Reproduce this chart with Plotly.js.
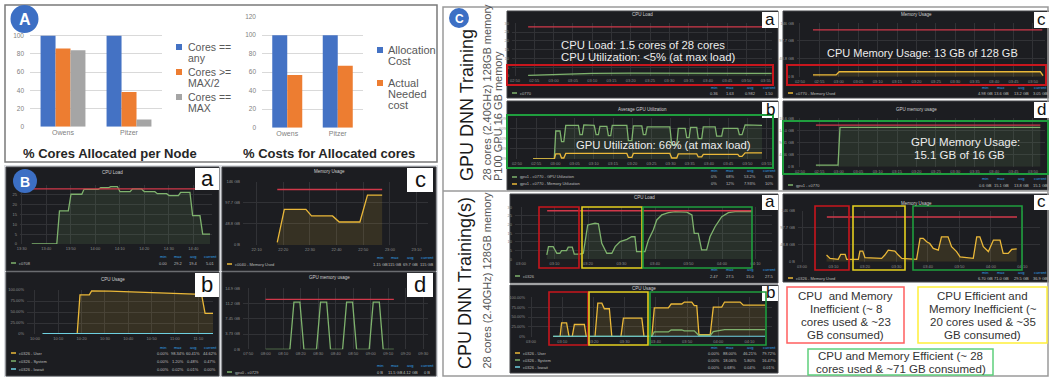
<!DOCTYPE html>
<html><head><meta charset="utf-8">
<script src="https://cdn.plot.ly/plotly-3.0.1.min.js"></script>
<style>html,body{margin:0;padding:0;background:#fff}#chart{width:1049px;height:377px}</style>
</head><body><div id="chart"></div>
<script>
// ================= DATA =================
// Panel A
const nodeNames = ["Owens", "Pitzer"];
const coresAnyPct = [100, 100];
const coresHalfPct = [86, 38];
const coresMaxPct = [84, 8];
const allocationCostPct = [100, 100];
const neededCostPct = [57, 67];
const pctTicks = [0, 20, 40, 60, 80, 100, 120];
const pctTickLabelsLeft = ["0", "20", "40", "60", "80", "100", ""];
const pctTickLabelsRight = ["0", "20", "40", "60", "80", "100", "120"];
const coreSeriesNames = ["Cores == any", "Cores >= MAX/2", "Cores == MAX"];
const costSeriesNames = ["Allocation Cost", "Actual Needed cost"];
const coreLegendLines = [["Cores ==", "any"], ["Cores >=", "MAX/2"], ["Cores ==", "MAX"]];
const costLegendLines = [["Allocation", "Cost"], ["Actual", "Needed", "cost"]];
const chartTitlesA = ["% Cores Allocated per Node", "% Costs for Allocated cores"];

// Panel B (time in minutes)
const bCpuLoadT = [4.1,14.3,15.4,19.0,20.1,24.5,25.4,31.2,32.2,35.3,36.3,39.0,40.1,44.2,45.2,48.9,50.0,54.3,55.3,59.1,60.1,63.9,64.8,68.6,69.7,72.7,73.8,76.8];
const bCpuLoadV = [0,0,16.8,16.8,25.3,25.3,27.8,27.8,28.6,28.6,29.2,29.2,26.6,26.6,28,28,26.6,26.6,25.6,25.6,24.6,24.6,26.3,26.3,14.4,14.4,5,5];
const bCpuThrT = [-0.7, 77.6];
const bCpuThrV = [28, 28];
const bMemT = [7.75,10.4,18.5,20.6,28.5,31.0,38.75,41.6,47.1];
const bMemV = [6,82,82,67,67,53,53,115,115];
const bMemThrT = [7.75, 47.1];
const bMemThrV = [128, 128];
const bUserT = [18.1,19.3,23.3,24.3,32.1,42.1,53.6,58.6,59.3,67.9,71.4,72.9,76.3];
const bUserV = [0,89,89,98,97.5,96,94,93,92,91,90,47,47];
const bSystemT = [3.3, 76.3];
const bSystemV = [1.0, 1.0];
const bIowaitT = [3.3, 76.3];
const bIowaitV = [0.3, 0.3];
const bGpuMemT = [9.9,23.8,26.1,29.5,31.8,39.0,41.3,44.8,47.0,53.9,56.2,59.6,61.9,69.1,71.4,74.9,77.1,83.2];
const bGpuMemV = [0,0,11.5,11.5,0,0,11.5,11.5,0,0,11.5,11.5,0,0,11.5,11.5,0,0];
const bGpuThrT = [9.9, 83.2];
const bGpuThrV = [12.2, 12.2];

// Panel C - GPU training
const cCpuLoadT = [3.4,8,13,20,30,40,50,60,66.5];
const cCpuLoadV = [0.4,0.8,1.3,1.5,1.6,1.5,1.5,1.6,1.5];
const cCpuThrT = [3.4, 66.5];
const cCpuThrV = [28, 28];
const cMemT = [3.35,9.3,10.1,61.9,62.6];
const cMemV = [5,5,13.5,13.5,3];
const cMemThrT = [3.35, 62.4];
const cMemThrV = [128, 128];
const cGpuUtilT = [4.2,9.7,10.1,11.2,11.6,12.2,12.7,16.0,16.4,17.0,17.4,20.1,20.6,21.2,21.6,23.4,23.8,24.4,24.8,28.6,29.0,29.9,30.3,32.5,32.9,33.5,33.9,39.8,40.3,41.6,42.0,43.8,44.2,44.8,45.2,46.8,47.2,48.1,48.5,51.6,52.0,53.3,53.7,57.5,57.9,58.6,59.4,63.8];
const cGpuUtilV = [0,0,55,55,34,34,66,66,48,48,67,66,48,48,64,64,46,46,66,66,36,36,65,65,48,48,63,63,28,28,60,60,42,42,62,62,40,40,63,63,45,45,60,60,48,48,67,66];
const cGpuMemUtilT = [4.2,9.7,10.1,11.2,11.6,12.2,12.7,28.6,29.0,29.9,30.3,39.8,40.3,41.6,42.0,46.8,47.2,48.1,48.5,57.5,57.9,58.6,59.4,63.8];
const cGpuMemUtilV = [0,0,10,10,2,2,11,11,3,3,11,11,2,2,10,10,4,4,9,9,5,5,12,12];
const cGpuMemT = [4.1,9.8,10.3,61.9];
const cGpuMemV = [0.6,0.6,15.1,15.1];
const cGpuThrT = [4.1, 61.9];
const cGpuThrV = [16, 16];

// Panel C - CPU training
const dCpuLoadT = [7.7,8.2,9.6,10.7,11.6,12.1,13.6,14.1,15.3,15.9,17.6,18.6,19.9,22.1,23.1,24.1,25.6,27.1,28.1,29.6,31.6,33.0,34.0,34.5,37.0,38.0,39.5,40.5,42.0,44.0,46.0,49.5,51.0,51.7,52.9,53.9,55.4,56.4,57.9,59.9,61.9,63.9,69.0];
const dCpuLoadV = [2.5,7.3,7.3,3.5,3.5,5,5,7,7,3,3,3.5,19.8,20.8,20.5,9.2,3.5,3.5,7.3,10.2,11.5,13,13,4.4,4.4,11,17,22.7,25.6,26.9,27.5,27.2,25.6,15,15,5.4,5.4,13,18.8,24.6,26.9,27.5,27.5];
const dCpuThrT = [7.8, 69.0];
const dCpuThrV = [28, 28];
const dUserT = [7.1,9.3,9.8,11.4,12.2,13.2,13.9,17.1,17.7,20.5,21.4,22.7,23.5,25.1,25.9,28.8,29.6,35.5,36.2,38.7,39.5,44.0,44.9,48.3,49.1,51.5,52.3,53.1,53.8,57.4,58.4,61.1,62.0,67.0,68.0,75.0];
const dUserV = [0,0,35,35,0,0,31,31,0,0,85,85,71,71,0,0,47,47,0,0,73,73,83,83,88,88,79,79,5,5,75,75,88,88,80,80];
const dSystemT = [7.1,38.7,39.5,44.0,44.9,48.3,49.1,52.3,53.8,57.4,58.4,62.0,75.0];
const dSystemV = [0.8,0.8,12,12,17,17,15,15,3,3,13,18,18];
const dIowaitT = [7.1, 75.0];
const dIowaitV = [0.3, 0.3];
const dMemT = [7.8,8.9,11.5,12.3,13.7,14.2,17.9,18.4,19.3,20.0,25.3,26.3,27.4,29.5,30.6,31.7,36.4,37.5,38.5,39.6,40.6,41.7,43.3,44.3,46.4,47.5,49.1,50.2,54.4,55.5,56.5,57.6,59.2,60.8,62.9,63.9,65.5,66.6,68.2];
const dMemV = [19,9.5,6.7,21,21,6.7,7,30.5,30.5,11.5,9.5,19,33,30.5,19,9.5,6.7,67,67,57,52,38,33,71,71,43,29,14,9.5,71,71,43,29,62,62,24,24,35,37];
const dMemThrT = [7.9, 68.3];
const dMemThrV = [128, 128];

// Tick labels
const loadYT = [0,5,10,15,20,25,30];
const loadYL = ["0","5","10","15","20","25","30"];
const loadYLBadge = ["0","5","10","15","20","25",""];
const memYT = [0,48.8,97.7,146];
const memYL = ["0 B","48.8 GB","97.7 GB","146 GB"];
const usageYT = [0,25,50,75,100];
const usageYL = ["0%","25.00%","50.00%","75.00%","100.00%"];
const bGpuYT = [0,3.73,7.45,11.2,14.9];
const bGpuYL = ["0 B","3.73 GB","7.45 GB","11.2 GB","14.9 GB"];
const gpuUtilYT = [0,20,40,60,80];
const gpuUtilYL = ["0%","20%","40%","60%","80%"];
const cGpuYT = [0,4.66,9.31,14.0,18.6];
const cGpuYL = ["0 B","4.66 GB","9.31 GB","14.0 GB","18.6 GB"];
const bLoadXT = [0,10,20,30,40,50,60,70];
const bLoadXL = ["13:30","13:40","13:50","14:00","14:10","14:20","14:30","14:40"];
const bMemXT = [0,10,20,30,40,50,60];
const bMemXL = ["22:10","22:20","22:30","22:40","22:50","23:00","23:10"];
const bUsageXT = [0,10,20,30,40,50,60,70];
const bUsageXL = ["10:00","10:10","10:20","10:30","10:40","10:50","11:00","11:10"];
const bGpuXT = [0,10,20,30,40,50,60,70,80,90,100];
const bGpuXL = ["07:50","08:00","08:10","08:20","08:30","08:40","08:50","09:00","09:10","09:20","09:30"];
const cTopXT14 = [0,5,10,15,20,25,30,35,40,45,50,55,60,65];
const cTopXL14 = ["02:50","02:55","03:00","03:05","03:10","03:15","03:20","03:25","03:30","03:35","03:40","03:45","03:50","03:55"];
const cTopXT13 = [0,5,10,15,20,25,30,35,40,45,50,55,60];
const cTopXL13 = ["02:50","02:55","03:00","03:05","03:10","03:15","03:20","03:25","03:30","03:35","03:40","03:45","03:50"];
const cBotXT = [0,10,20,30,40,50,60,70];
const cBotXL = ["03:00","03:10","03:20","03:30","03:40","03:50","04:00","04:10"];

// Panel texts
const statHeader = ["min","max","avg","current"];
const bTitles = ["CPU Load","Memory Usage","CPU Usage","GPU memory usage"];
const cTitles = ["CPU Load","Memory Usage","Average GPU Utilization","GPU memory usage","CPU Load","Memory Usage","CPU Usage"];
const bLegends = [["c0708"],["c0040 - Memory Used"],["c0326 - User","c0326 - System","c0326 - Iowait"],["gpu0 - c0729"]];
const cLegends = [["c0770"],["c0770 - Memory Used"],["gpu1 - c0770 - GPU Utilization","gpu1 - c0770 - Memory Utilization"],["gpu1 - c0770"],["c0326"],["c0326 - Memory Used"],["c0326 - User","c0326 - System","c0326 - Iowait"]];
const bStats = [[["0.00","29.2","19.4","5.01"]],[["1.15 GB","115 GB","69.7 GB","115 GB"]],[["0.00%","98.34%","60.41%","44.62%"],["0.00%","1.20%","0.48%","0.47%"],["0.00%","0.02%","0.01%","0.00%"]],[["0 B","11.5 GB","4.12 GB","0 B"]]];
const cStats = [[["0.36","1.63","0.982","1.50"]],[["4.98 GB","13.6 GB","13.2 GB","3.05 GB"]],[["0%","68%","53.2%","63%"],["0%","12%","7.93%","10%"]],[["0.6 GB","15.1 GB","13.8 GB","15.1 GB"]],[["2.47","27.5","15.0","27.5"]],[["6.70 GB","71.0 GB","29.5 GB","36.9 GB"]],[["0.00%","88.00%","46.21%","79.72%"],["0.00%","18.06%","5.80%","16.47%"],["0.00%","0.68%","0.04%","0.01%"]]];
const callouts = ["CPU Load: 1.5 cores of 28 cores","CPU Utilization: &lt;5% (at max load)","CPU Memory Usage: 13 GB of 128 GB","GPU Utilization: 66% (at max load)","GPU Memory Usage:","15.1 GB of 16 GB"];
const boxNotes = [["CPU  and Memory","Inefficient (~ 8","cores used & ~23","GB consumed)"],["CPU Efficient and","Memory Inefficient (~","20 cores used & ~35","GB consumed)"],["CPU and Memory Efficient (~ 28","cores used & ~71 GB consumed)"]];
const sideTitles = ["GPU DNN Training","28 cores (2.40GHz) 128GB memory","P100 GPU 16 GB memory","CPU DNN Training(s)","28 cores (2.40GHz) 128GB memory"];

// ================= DRAWING =================
const W = 1049, H = 377;
const fx = px => px / W;
const fy = py => 1 - py / H;
const FONT = "Liberation Sans, Arial, sans-serif";
const GREEN = '#7eb26d', GREENF = 'rgba(126,178,109,0.13)';
const YELLOW = '#eab839', YELLOWF = 'rgba(234,184,57,0.13)';
const CYAN = '#6ed0e0', RED = '#d0384a', STAT_BLUE = '#33a2e5';
const PANEL_BG = '#1c1d21', PANEL_EDGE = '#45464a', GRID = '#313236';
const BLUE = '#4472c4', ORANGE = '#ed7d31', GRAY = '#a5a5a5';

const data = [], shapes = [], annotations = [];
const layout = {width: W, height: H, margin: {l:0, r:0, t:0, b:0}, paper_bgcolor: '#ffffff',
  plot_bgcolor: 'rgba(0,0,0,0)', showlegend: false, font: {family: FONT}, shapes, annotations, hovermode: false};

function axisKeys(i) {
  return {xk: i === 1 ? 'xaxis' : 'xaxis' + i, yk: i === 1 ? 'yaxis' : 'yaxis' + i,
          xr: i === 1 ? 'x' : 'x' + i, yr: i === 1 ? 'y' : 'y' + i};
}
function addRect(b, opt) {
  shapes.push(Object.assign({type: 'rect', xref: 'paper', yref: 'paper', x0: fx(b[0]), x1: fx(b[2]), y0: fy(b[3]), y1: fy(b[1]), layer: 'below'}, opt));
}
function addLine(x0, y0, x1, y1, color, width) {
  shapes.push({type: 'line', xref: 'paper', yref: 'paper', x0: fx(x0), x1: fx(x1), y0: fy(y0), y1: fy(y1), line: {color: color, width: width}, layer: 'above'});
}
function addCircle(cx, cy, r, color) {
  shapes.push({type: 'circle', xref: 'paper', yref: 'paper', x0: fx(cx - r), x1: fx(cx + r), y0: fy(cy + r), y1: fy(cy - r), fillcolor: color, line: {width: 0}, layer: 'above'});
}
function addText(t, x, y, size, color, opt) {
  annotations.push(Object.assign({text: t, xref: 'paper', yref: 'paper', x: fx(x), y: fy(y), showarrow: false,
    xanchor: 'center', yanchor: 'middle', borderpad: 0, font: {family: FONT, size: size, color: color}}, opt || {}));
}

// ---------- Panel A ----------
addRect([5, 5, 437, 162], {fillcolor: 'rgba(0,0,0,0)', line: {color: '#7a7a7a', width: 1.5}, layer: 'above'});
function barAxes(i, plot, yLabels) {
  const k = axisKeys(i);
  layout[k.xk] = {domain: [fx(plot[0]), fx(plot[2])], anchor: k.yr, type: 'category', range: [-0.5, 1.5],
    showgrid: false, zeroline: false, showline: false, ticks: '', tickfont: {size: 7, color: '#7f7f7f'}, automargin: false, fixedrange: true};
  layout[k.yk] = {domain: [fy(plot[3]), fy(plot[1])], anchor: k.xr, range: [0, 120], tickmode: 'array', tickvals: pctTicks, ticktext: yLabels,
    showgrid: true, gridcolor: '#d9d9d9', gridwidth: 1, zeroline: false, showline: false, ticks: '', tickfont: {size: 6.5, color: '#7f7f7f'},
    automargin: false, fixedrange: true, ticklabelstandoff: 5};
  return k;
}
const kA1 = barAxes(1, [30, 17.5, 162, 126.7], pctTickLabelsLeft);
const kA2 = barAxes(2, [262, 16.7, 363, 127.7], pctTickLabelsRight);
[[coresAnyPct, BLUE, -0.34], [coresHalfPct, ORANGE, -0.113], [coresMaxPct, GRAY, 0.113]].forEach((s, j) => {
  data.push({type: 'bar', name: coreSeriesNames[j], x: nodeNames, y: s[0], xaxis: kA1.xr, yaxis: kA1.yr,
    marker: {color: s[1], line: {width: 0}}, width: 0.227, offset: s[2], hoverinfo: 'skip'});
});
[[allocationCostPct, BLUE, -0.297], [neededCostPct, ORANGE, 0]].forEach((s, j) => {
  data.push({type: 'bar', name: costSeriesNames[j], x: nodeNames, y: s[0], xaxis: kA2.xr, yaxis: kA2.yr,
    marker: {color: s[1], line: {width: 0}}, width: 0.297, offset: s[2], hoverinfo: 'skip'});
});
layout.barmode = 'overlay';
// legends
const legColorsA = [BLUE, ORANGE, GRAY];
coreLegendLines.forEach((lines, j) => {
  const y0 = 47 + j * 25;
  addRect([176, y0 - 3, 182, y0 + 3], {fillcolor: legColorsA[j], line: {width: 0}, layer: 'above'});
  lines.forEach((ln, m) => addText(ln, 187, y0 + m * 10.5, 10.5, '#595959', {xanchor: 'left'}));
});
const legYB = [50, 83];
costLegendLines.forEach((lines, j) => {
  const y0 = legYB[j];
  addRect([377, y0 - 3, 383, y0 + 3], {fillcolor: legColorsA[j], line: {width: 0}, layer: 'above'});
  lines.forEach((ln, m) => addText(ln, 387, y0 + m * 10.8, 11, '#595959', {xanchor: 'left'}));
});
addText('<b>' + chartTitlesA[0] + '</b>', 110, 153, 13, '#262626');
addText('<b>' + chartTitlesA[1] + '</b>', 329, 153, 13, '#262626');

// ---------- Dark panels ----------
const B_OFF = [-56, -41, -26, -9];
const C_OFF = [-64, -48, -28, -9];
function darkPanel(i, p) {
  const k = axisKeys(i);
  addRect(p.box, {fillcolor: PANEL_BG, line: {color: PANEL_EDGE, width: 1}, layer: 'below'});
  const tf = {size: 4, color: '#8d8d8d', family: FONT};
  layout[k.xk] = {domain: [fx(p.plot[0]), fx(p.plot[2])], range: p.xr, anchor: k.yr, tickmode: 'array', tickvals: p.xtv, ticktext: p.xtt,
    showgrid: true, gridcolor: GRID, gridwidth: 1, zeroline: false, showline: false, ticks: '', tickfont: tf, automargin: false, fixedrange: true, ticklabelstandoff: 1};
  layout[k.yk] = {domain: [fy(p.plot[3]), fy(p.plot[1])], range: p.yr, anchor: k.xr, tickmode: 'array', tickvals: p.ytv, ticktext: p.ytt,
    showgrid: true, gridcolor: GRID, gridwidth: 1, zeroline: false, showline: false, ticks: '', tickfont: tf, automargin: false, fixedrange: true, ticklabelstandoff: 2};
  p.series.forEach(s => {
    const tr = {type: 'scatter', mode: 'lines', x: s.t, y: s.v, xaxis: k.xr, yaxis: k.yr,
      line: {color: s.c, width: s.w || 1.3}, hoverinfo: 'skip', showlegend: false};
    if (s.f) { tr.fill = 'tozeroy'; tr.fillcolor = s.f; }
    data.push(tr);
  });
  const cx = (p.box[0] + p.box[2]) / 2;
  addText(p.title, cx, p.titleY, 4.5, '#d0d0d0');
  p.legend.forEach((name, j) => {
    addLine(p.box[0] + 5, p.legY[j], p.box[0] + 10, p.legY[j], p.legC[j], 1.5);
    addText(name, p.box[0] + 12, p.legY[j], 4, '#bdbdbd', {xanchor: 'left'});
  });
  statHeader.forEach((h, j) => addText(h, p.box[2] + p.off[j], p.headY, 4, STAT_BLUE));
  p.stats.forEach((row, r) => row.forEach((val, j) => addText(val, p.box[2] + p.off[j], p.legY[r], 4, '#bdbdbd')));
  addRect(p.lbox, {fillcolor: '#ffffff', line: {width: 0}, layer: 'above'});
  addText(p.letter, (p.lbox[0] + p.lbox[2]) / 2, (p.lbox[1] + p.lbox[3]) / 2 - 1, p.lsize, '#111111');
}

// B frame (gaps)
addRect([4, 165, 438, 377], {fillcolor: '#dcdee2', line: {width: 0}, layer: 'below'});

darkPanel(3, {box: [6, 167, 219, 271], plot: [20, 185, 212, 244], xr: [-0.7, 77.6], yr: [0, 30], xtv: bLoadXT, xtt: bLoadXL, ytv: loadYT, ytt: loadYLBadge,
  title: bTitles[0], titleY: 172,
  series: [{t: bCpuLoadT, v: bCpuLoadV, c: GREEN, f: GREENF}, {t: bCpuThrT, v: bCpuThrV, c: RED}],
  legend: bLegends[0], legC: [GREEN], legY: [263], headY: 256, stats: bStats[0], off: B_OFF,
  lbox: [195, 168, 219, 190], letter: 'a', lsize: 22});
darkPanel(4, {box: [222, 167, 436, 271], plot: [243, 181.7, 428, 245], xr: [-5.1, 64.3], yr: [0, 146], xtv: bMemXT, xtt: bMemXL, ytv: memYT, ytt: memYL,
  title: bTitles[1], titleY: 171,
  series: [{t: bMemT, v: bMemV, c: YELLOW, f: YELLOWF}, {t: bMemThrT, v: bMemThrV, c: RED}],
  legend: bLegends[1], legC: [YELLOW], legY: [264], headY: 257, stats: bStats[1], off: B_OFF,
  lbox: [407, 168, 433, 192], letter: 'c', lsize: 22});
darkPanel(5, {box: [6, 272, 219, 376], plot: [27, 290, 213, 334], xr: [-3.4, 76.3], yr: [0, 100], xtv: bUsageXT, xtt: bUsageXL, ytv: usageYT, ytt: usageYL,
  title: bTitles[2], titleY: 279,
  series: [{t: bUserT, v: bUserV, c: YELLOW, f: YELLOWF}, {t: bSystemT, v: bSystemV, c: GREEN}, {t: bIowaitT, v: bIowaitV, c: CYAN, w: 1.6}],
  legend: bLegends[2], legC: [YELLOW, GREEN, CYAN], legY: [353, 361, 369], headY: 347, stats: bStats[2], off: B_OFF,
  lbox: [195, 273, 219, 297], letter: 'b', lsize: 22});
darkPanel(6, {box: [222, 272, 436, 376], plot: [243, 288.3, 428, 349.3], xr: [-3.0, 102.7], yr: [0, 14.9], xtv: bGpuXT, xtt: bGpuXL, ytv: bGpuYT, ytt: bGpuYL,
  title: bTitles[3], titleY: 277,
  series: [{t: bGpuMemT, v: bGpuMemV, c: GREEN}, {t: bGpuThrT, v: bGpuThrV, c: RED}],
  legend: bLegends[3], legC: [GREEN], legY: [372], headY: 365, stats: bStats[3], off: B_OFF,
  lbox: [407, 273, 433, 297], letter: 'd', lsize: 22});

// C frame
addRect([443, 7, 1048, 376], {fillcolor: 'rgba(0,0,0,0)', line: {color: '#9a9a9a', width: 1.5}, layer: 'above'});
addLine(443, 191, 1048, 191, '#9a9a9a', 1.5);

darkPanel(7, {box: [507, 11, 778, 98], plot: [512, 23.3, 772, 76], xr: [-0.78, 66.6], yr: [0, 30], xtv: cTopXT14, xtt: cTopXL14, ytv: loadYT, ytt: loadYL,
  title: cTitles[0], titleY: 15,
  series: [{t: cCpuLoadT, v: cCpuLoadV, c: GREEN, f: GREENF}, {t: cCpuThrT, v: cCpuThrV, c: RED}],
  legend: cLegends[0], legC: [GREEN], legY: [93], headY: 87.5, stats: cStats[0], off: C_OFF,
  lbox: [762, 12, 778, 28], letter: 'a', lsize: 17});
darkPanel(8, {box: [783, 11, 1049, 98], plot: [797, 23.3, 1045, 76.7], xr: [-0.77, 63.1], yr: [0, 146], xtv: cTopXT13, xtt: cTopXL13, ytv: memYT, ytt: memYL,
  title: cTitles[1], titleY: 15,
  series: [{t: cMemT, v: cMemV, c: YELLOW, f: YELLOWF}, {t: cMemThrT, v: cMemThrV, c: RED}],
  legend: cLegends[1], legC: [YELLOW], legY: [93], headY: 87.5, stats: cStats[1], off: C_OFF,
  lbox: [1034, 12, 1049, 28], letter: 'c', lsize: 17});
darkPanel(9, {box: [507, 101, 778, 190], plot: [510, 118.3, 772, 159], xr: [-1.82, 66.4], yr: [0, 80], xtv: cTopXT14, xtt: cTopXL14, ytv: gpuUtilYT, ytt: gpuUtilYL,
  title: cTitles[2], titleY: 109,
  series: [{t: cGpuUtilT, v: cGpuUtilV, c: GREEN, f: GREENF}, {t: cGpuMemUtilT, v: cGpuMemUtilV, c: YELLOW}],
  legend: cLegends[2], legC: [GREEN, YELLOW], legY: [177, 184], headY: 170.5, stats: cStats[2], off: C_OFF,
  lbox: [762, 102, 778, 118], letter: 'b', lsize: 17});
darkPanel(10, {box: [783, 101, 1049, 190], plot: [797, 118.3, 1045, 166.7], xr: [-0.77, 63.1], yr: [0, 18.6], xtv: cTopXT13, xtt: cTopXL13, ytv: cGpuYT, ytt: cGpuYL,
  title: cTitles[3], titleY: 109,
  series: [{t: cGpuMemT, v: cGpuMemV, c: GREEN, f: GREENF}, {t: cGpuThrT, v: cGpuThrV, c: RED}],
  legend: cLegends[3], legC: [GREEN], legY: [185], headY: 178.5, stats: cStats[3], off: C_OFF,
  lbox: [1034, 102, 1049, 118], letter: 'd', lsize: 17});
darkPanel(11, {box: [510, 194, 778, 283], plot: [515, 207.3, 772, 259.3], xr: [-1.79, 74.9], yr: [0, 30], xtv: cBotXT, xtt: cBotXL, ytv: loadYT, ytt: loadYL,
  title: cTitles[4], titleY: 198,
  series: [{t: dCpuLoadT, v: dCpuLoadV, c: GREEN, f: GREENF}, {t: dCpuThrT, v: dCpuThrV, c: RED}],
  legend: cLegends[4], legC: [GREEN], legY: [276], headY: 269.5, stats: cStats[4], off: C_OFF,
  lbox: [762, 195, 778, 210], letter: 'a', lsize: 17});
darkPanel(12, {box: [783, 194, 1049, 282], plot: [798, 210.7, 1040, 261.7], xr: [-1.27, 75.6], yr: [0, 146], xtv: cBotXT, xtt: cBotXL, ytv: memYT, ytt: memYL,
  title: cTitles[5], titleY: 203,
  series: [{t: dMemT, v: dMemV, c: YELLOW, f: YELLOWF}, {t: dMemThrT, v: dMemThrV, c: RED}],
  legend: cLegends[5], legC: [YELLOW], legY: [278], headY: 272, stats: cStats[5], off: C_OFF,
  lbox: [1034, 195, 1049, 210], letter: 'c', lsize: 17});
darkPanel(13, {box: [510, 285, 778, 373], plot: [528, 297.3, 772, 336.7], xr: [-0.96, 77.2], yr: [0, 100], xtv: cBotXT, xtt: cBotXL, ytv: usageYT, ytt: usageYL,
  title: cTitles[6], titleY: 288,
  series: [{t: dUserT, v: dUserV, c: YELLOW, f: YELLOWF}, {t: dSystemT, v: dSystemV, c: GREEN}, {t: dIowaitT, v: dIowaitV, c: CYAN, w: 1.5}],
  legend: cLegends[6], legC: [YELLOW, GREEN, CYAN], legY: [353, 360, 367], headY: 347, stats: cStats[6], off: C_OFF,
  lbox: [762, 286, 778, 301], letter: 'b', lsize: 17});

// Highlight boxes
const HRED = '#c8161d', HYEL = '#e3cf1f', HGRN = '#1f9e3e';
function hbox(b, color, w) { addRect(b, {fillcolor: 'rgba(0,0,0,0)', line: {color: color, width: w || 1.6}, layer: 'above'}); }
hbox([507, 65, 773, 85], HRED, 2);
hbox([787, 65, 1046, 85], HRED, 2);
hbox([507, 115, 773, 168], HGRN, 2);
hbox([783, 121, 1048, 174], HGRN, 2);
hbox([539, 207, 579, 268], HRED); hbox([582, 207, 642, 268], HYEL); hbox([643, 207, 752, 268], HGRN);
hbox([549, 292, 588, 345], HRED); hbox([589, 292, 648, 345], HYEL); hbox([650, 292, 766, 345], HGRN);
hbox([815, 206, 849, 270], HRED); hbox([853, 206, 905, 270], HYEL); hbox([913, 206, 1022, 270], HGRN);
hbox([787, 287, 904, 343], '#ff5f5f', 1.5);
hbox([918, 287, 1047, 343], '#fff03a', 1.5);
hbox([808, 349, 993, 375], '#5fd07c', 1.5);

// Callouts
const CALL = '#ececec';
addText(callouts[0], 560, 45, 11.3, CALL, {xanchor: 'left'});
addText(callouts[1], 560, 57, 11.3, CALL, {xanchor: 'left'});
addText(callouts[2], 826, 53, 11, CALL, {xanchor: 'left'});
addText(callouts[3], 575, 145, 11.3, CALL, {xanchor: 'left'});
addText(callouts[4], 910, 142, 11.5, CALL, {xanchor: 'left'});
addText(callouts[5], 913, 155, 11.5, CALL, {xanchor: 'left'});

// Box notes (one annotation per line for tight line pitch)
const noteRedY = [295.5, 308.5, 321.5, 334.5];
boxNotes[0].forEach((ln, m) => addText(ln, 845.5, noteRedY[m], 11.5, '#333333'));
boxNotes[1].forEach((ln, m) => addText(ln, 982.5, noteRedY[m], 11.5, '#333333'));
boxNotes[2].forEach((ln, m) => addText(ln, 900.5, 356 + m * 12.5, 11.5, '#333333'));

// Side titles
addText(sideTitles[0], 467, 182, 18, '#1a1a1a', {textangle: -90, yanchor: 'bottom'});
addText(sideTitles[1], 486, 182, 11, '#555555', {textangle: -90, yanchor: 'bottom'});
addText(sideTitles[2], 498, 182, 11, '#555555', {textangle: -90, yanchor: 'bottom'});
addText(sideTitles[3], 465, 370, 18, '#1a1a1a', {textangle: -90, yanchor: 'bottom'});
addText(sideTitles[4], 486, 370, 11, '#555555', {textangle: -90, yanchor: 'bottom'});

// Section badges
const BADGE = '#3c6fc4';
addCircle(24.5, 19, 14, BADGE); addText('<b>A</b>', 24.5, 19.5, 16, '#ffffff');
addCircle(25, 181, 12, BADGE); addText('<b>B</b>', 25, 181.5, 14, '#ffffff');
addCircle(459, 18, 10, BADGE); addText('<b>C</b>', 459, 18.5, 12, '#ffffff');

Plotly.newPlot('chart', data, layout, {staticPlot: true, displayModeBar: false});
</script>
</body></html>
